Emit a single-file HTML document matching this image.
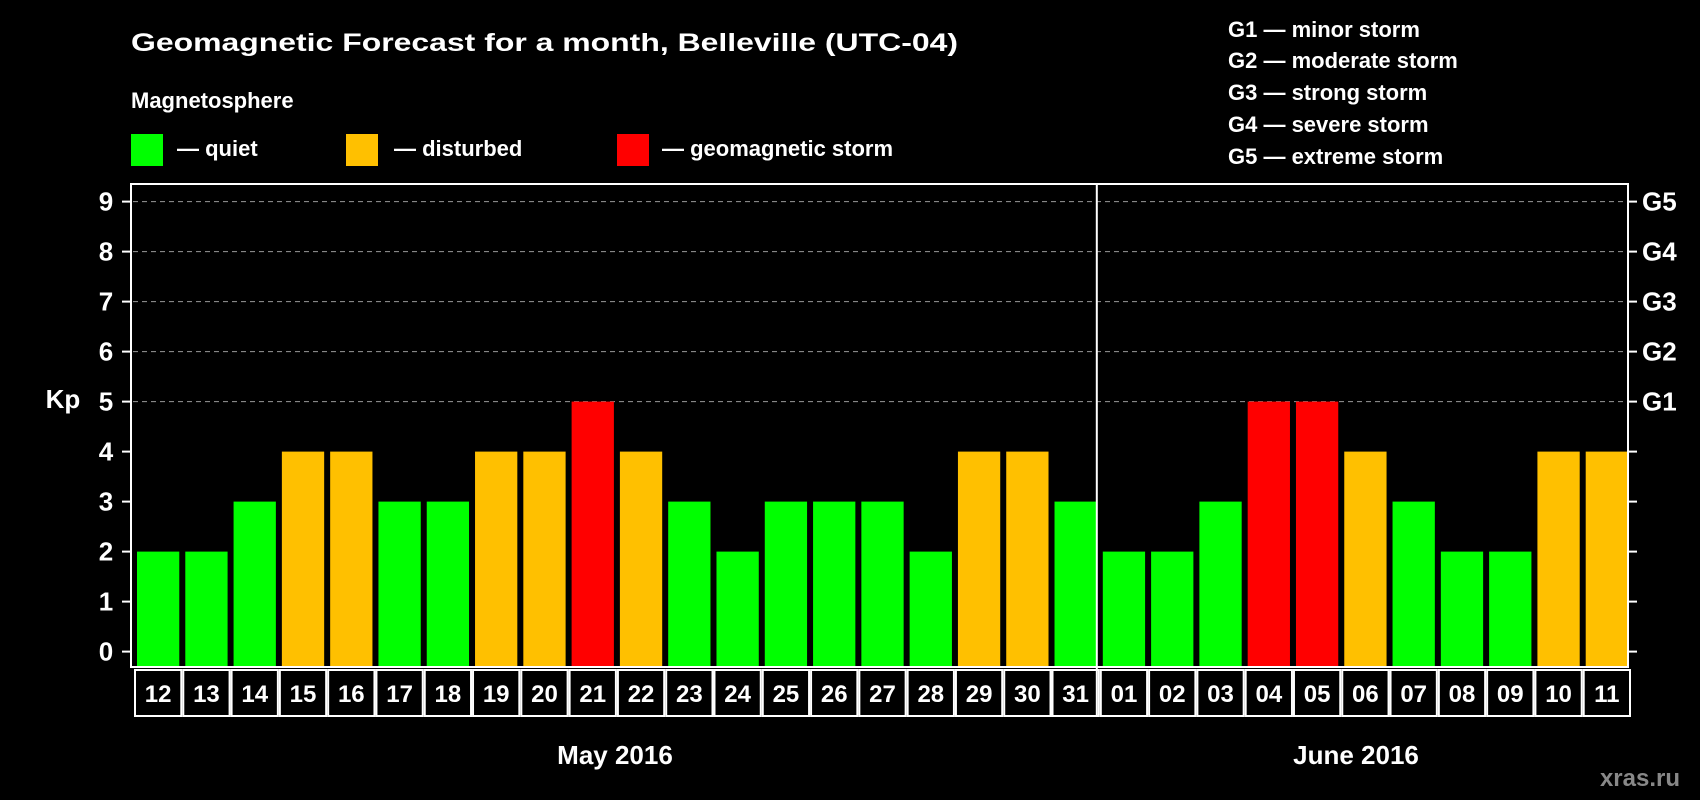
<!DOCTYPE html>
<html><head><meta charset="utf-8"><style>
html,body{margin:0;padding:0;background:#000;}
svg{display:block;font-family:"Liberation Sans",Arial,sans-serif;font-weight:bold;}
</style></head><body>
<svg id="chart" width="1700" height="800" viewBox="0 0 1700 800" xmlns="http://www.w3.org/2000/svg">
<rect width="1700" height="800" fill="#000"/>
<text x="131" y="51" fill="#fff" font-size="25" textLength="827" lengthAdjust="spacingAndGlyphs">Geomagnetic Forecast for a month, Belleville (UTC-04)</text>
<text x="131" y="108" fill="#fff" font-size="22">Magnetosphere</text>
<rect x="131" y="134" width="32" height="32" fill="#00ff00"/>
<text x="177" y="156" fill="#fff" font-size="22">— quiet</text>
<rect x="346" y="134" width="32" height="32" fill="#ffc000"/>
<text x="394" y="156" fill="#fff" font-size="22">— disturbed</text>
<rect x="617" y="134" width="32" height="32" fill="#ff0000"/>
<text x="662" y="156" fill="#fff" font-size="22">— geomagnetic storm</text>
<g fill="#fff" font-size="22">
<text x="1228" y="37">G1 — minor storm</text>
<text x="1228" y="68">G2 — moderate storm</text>
<text x="1228" y="100">G3 — strong storm</text>
<text x="1228" y="132">G4 — severe storm</text>
<text x="1228" y="164">G5 — extreme storm</text>
</g>
<text x="63" y="408" fill="#fff" font-size="26" text-anchor="middle">Kp</text>
<text x="615" y="764" fill="#fff" font-size="26" text-anchor="middle">May 2016</text>
<text x="1356" y="764" fill="#fff" font-size="26" text-anchor="middle">June 2016</text>
<text x="1680" y="786" fill="#888" font-size="24" text-anchor="end">xras.ru</text>
<g id="plot"></g>
</svg>
<script>
const days = ["12","13","14","15","16","17","18","19","20","21","22","23","24","25","26","27","28","29","30","31","01","02","03","04","05","06","07","08","09","10","11"];
const kpValues = [2,2,3,4,4,3,3,4,4,5,4,3,2,3,3,3,2,4,4,3,2,2,3,5,5,4,3,2,2,4,4];
const yTicks = [0,1,2,3,4,5,6,7,8,9];
const gLabels = ["G1","G2","G3","G4","G5"];
const gLevels = [5,6,7,8,9];
const monthBreakIndex = 20;

const NS = "http://www.w3.org/2000/svg";
const L = 131, R = 1628, T = 184, B = 667, y0 = 651.6, unit = 50;
const slot = (R - L) / days.length;
const xPos = i => L + i * slot;
const yPos = v => y0 - v * unit;
const g = document.getElementById('plot');
function mk(tag, attrs) { const e = document.createElementNS(NS, tag); for (const k in attrs) e.setAttribute(k, attrs[k]); g.appendChild(e); return e; }
function color(v) { return v >= 5 ? "#ff0000" : v >= 4 ? "#ffc000" : "#00ff00"; }

// grid
gLevels.forEach((lv, i) => {
  const ln = mk('line', {x1: L + 2, x2: R - 2, y1: yPos(lv), y2: yPos(lv), stroke: '#999', 'stroke-width': 1, 'stroke-dasharray': '5,4'});
  
  
});
// bars
kpValues.forEach((v, i) => {
  const r = mk('rect', {x: xPos(i) + 6, y: yPos(v), width: slot - 6, height: B - yPos(v) - 1, fill: color(v)});
  
  
});
// frame
const fr = mk('rect', {x: L, y: T, width: R - L, height: B - T, fill: 'none', stroke: '#fff', 'stroke-width': 2});


const sep = mk('line', {x1: xPos(monthBreakIndex), x2: xPos(monthBreakIndex), y1: T, y2: B + 49, stroke: '#fff', 'stroke-width': 2});


// y ticks
yTicks.forEach(t => {
  const tk = mk('line', {x1: L - 9, x2: L, y1: yPos(t), y2: yPos(t), stroke: '#fff', 'stroke-width': 2});
  
  
  const tr = mk('line', {x1: R, x2: R + 9, y1: yPos(t), y2: yPos(t), stroke: '#fff', 'stroke-width': 2});
  
  
  const tx = mk('text', {x: 106, y: yPos(t) + 9, fill: '#fff', 'font-size': 26, 'text-anchor': 'middle'});
  tx.textContent = t;
  
  
});
gLabels.forEach((lb, i) => {
  const tx = mk('text', {x: 1642, y: yPos(gLevels[i]) + 9, fill: '#fff', 'font-size': 26});
  tx.textContent = lb;
  
  
});
// day boxes
days.forEach((d, i) => {
  const bx = mk('rect', {x: xPos(i) + 4, y: B + 3, width: slot - 2, height: 46, fill: 'none', stroke: '#fff', 'stroke-width': 2});
  
  
  const tx = mk('text', {x: xPos(i) + 3 + slot / 2, y: B + 35, fill: '#fff', 'font-size': 24, 'text-anchor': 'middle'});
  tx.textContent = d;
  
  
});
</script>
</body></html>
